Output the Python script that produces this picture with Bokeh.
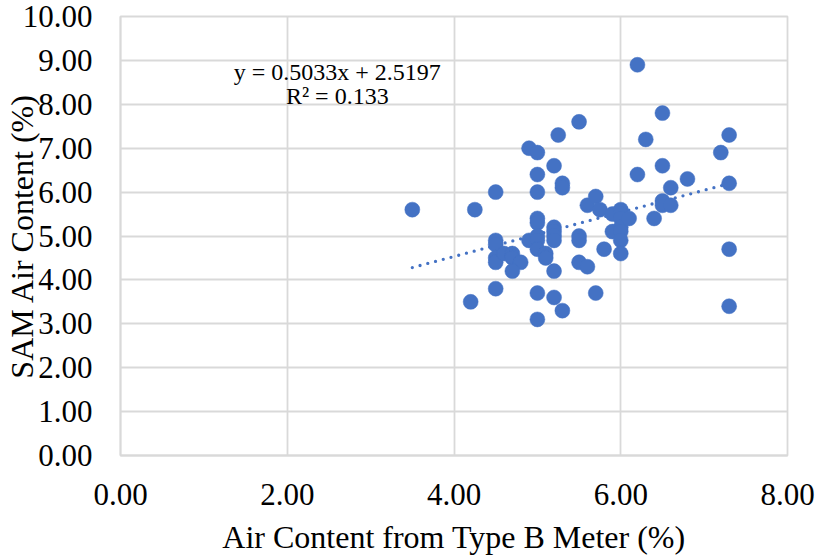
from bokeh.plotting import figure
from bokeh.models import Range1d, FixedTicker, NumeralTickFormatter, Label
from bokeh.embed import file_html
from bokeh.resources import INLINE

# Air content from Type B meter (%)
type_b = [3.5, 4.25, 4.2, 4.5, 4.5, 4.5, 4.5, 4.5, 4.5, 4.6, 4.7, 4.7, 4.8, 4.7,
          4.9, 4.9, 5.0, 5.0, 5.0, 5.0, 5.0, 5.0, 5.0, 5.0, 5.1, 5.1, 5.0, 5.0,
          5.2, 5.25, 5.3, 5.3, 5.2, 5.2, 5.2, 5.2, 5.2, 5.2, 5.3,
          5.5, 5.5, 5.5, 5.5, 5.6, 5.6, 5.7, 5.75, 5.7, 5.8, 5.9, 5.9,
          6.0, 6.0, 6.0, 6.0, 6.0, 6.0, 6.0, 6.1,
          6.2, 6.2, 6.3, 6.4, 6.5, 6.5, 6.5, 6.5, 6.6, 6.6, 6.8,
          7.2, 7.3, 7.3, 7.3, 7.3]
# SAM air content (%)
sam = [5.6, 5.6, 3.5, 6.0, 4.9, 4.8, 4.5, 4.4, 3.8, 4.6, 4.6, 4.5, 4.4, 4.2,
       4.9, 7.0, 6.9, 6.4, 6.0, 5.4, 5.3, 5.0, 4.9, 4.7, 4.6, 4.5, 3.7, 3.1,
       6.6, 7.3, 6.2, 6.1, 5.2, 5.1, 5.0, 4.9, 4.2, 3.6, 3.3,
       7.6, 5.0, 4.9, 4.4, 4.3, 5.7, 5.9, 5.6, 3.7, 4.7, 5.5, 5.1,
       5.6, 5.5, 5.4, 5.2, 5.1, 4.9, 4.6, 5.4,
       8.9, 6.4, 7.2, 5.4, 7.8, 6.6, 5.8, 5.7, 6.1, 5.7, 6.3,
       6.9, 7.3, 6.2, 4.7, 3.4]

slope = 0.5033
intercept = 2.5197
equation_text = "y = 0.5033x + 2.5197"
r2_text = "R\u00b2 = 0.133"
x_ticks = [0, 2, 4, 6, 8]
y_ticks = [0, 1, 2, 3, 4, 5, 6, 7, 8, 9, 10]

FONT = "Liberation Serif"
BLUE = "#4472C4"
GRID = "#D9D9D9"

p = figure(width=820, height=557, output_backend="svg", toolbar_location=None,
           x_range=Range1d(0, 8), y_range=Range1d(0, 10),
           min_border_left=0, min_border_right=33, min_border_top=16, min_border_bottom=0)
p.background_fill_color = "white"
p.border_fill_color = "white"
p.outline_line_color = GRID
p.outline_line_width = 1.8

for ax in (p.xaxis, p.yaxis):
    ax.axis_line_color = GRID
    ax.axis_line_width = 1.8
    ax.major_tick_line_color = None
    ax.minor_tick_line_color = None
    ax.major_tick_out = 0
    ax.major_tick_in = 0
    ax.major_label_text_font = FONT
    ax.major_label_text_font_size = "31px"
    ax.major_label_text_color = "black"
    ax.axis_label_text_font = FONT
    ax.axis_label_text_font_size = "32px"
    ax.axis_label_text_font_style = "normal"
    ax.axis_label_text_color = "black"
    ax.formatter = NumeralTickFormatter(format="0.00")

p.xaxis.ticker = FixedTicker(ticks=x_ticks)
p.yaxis.ticker = FixedTicker(ticks=y_ticks)
p.xaxis.axis_label = "Air Content from Type B Meter (%)"
p.yaxis.axis_label = "SAM Air Content (%)"
p.xaxis.major_label_standoff = 28
p.yaxis.major_label_standoff = 28
p.xaxis.axis_label_standoff = 11
p.yaxis.axis_label_standoff = -20

p.xgrid.grid_line_color = GRID
p.ygrid.grid_line_color = GRID
p.xgrid.grid_line_width = 1.8
p.ygrid.grid_line_width = 1.8

x0, x1 = min(type_b), max(type_b)
p.line([x0, x1], [slope * x0 + intercept, slope * x1 + intercept],
       line_color=BLUE, line_width=3.3, line_dash="0 8", line_cap="round")

p.scatter(type_b, sam, size=15, fill_color=BLUE, line_color=BLUE, line_width=0.5)

p.add_layout(Label(x=2.6, y=8.73, text=equation_text, text_font=FONT,
                   text_font_size="24px", text_align="center",
                   text_baseline="alphabetic", text_color="black"))
p.add_layout(Label(x=2.6, y=8.19, text=r2_text, text_font=FONT,
                   text_font_size="24px", text_align="center",
                   text_baseline="alphabetic", text_color="black"))

open("out.html", "w").write(file_html(p, INLINE))
